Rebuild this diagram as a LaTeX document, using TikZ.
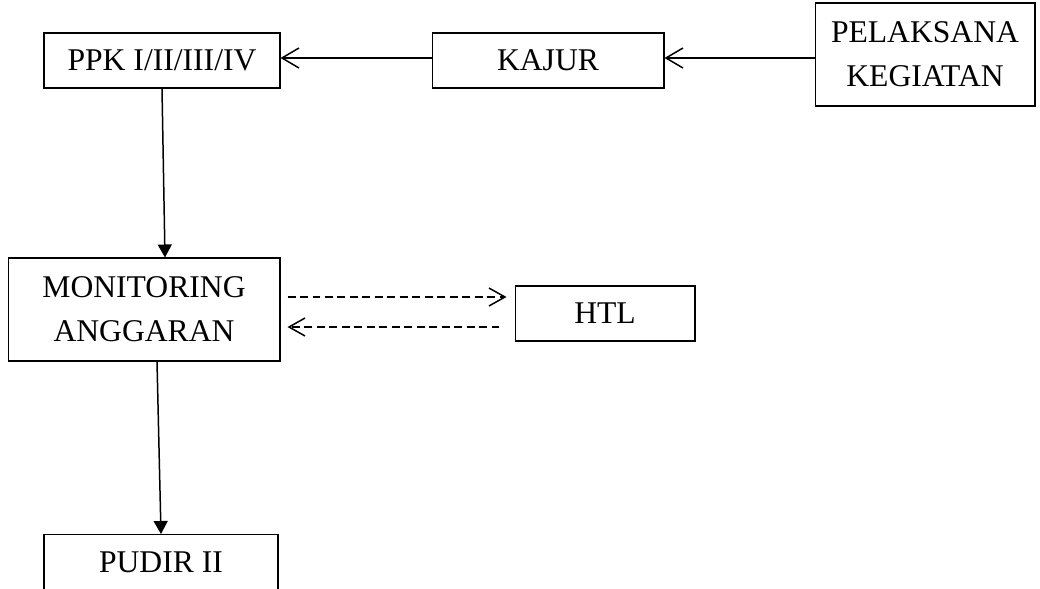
\documentclass[tikz,border=0pt]{standalone}
\usepackage{fontspec}
\setmainfont{Liberation Serif}
\usepackage{tikz}
\usetikzlibrary{positioning,arrows.meta,calc}
\tikzset{
  box/.style={rectangle, draw=black, line width=0.6pt, align=center,
              inner sep=2pt, font=\fontsize{18}{25}\selectfont},
  ar/.style={-{Straight Barb[length=3.4mm,width=4mm]}, line width=0.85pt},
  arf/.style={-{Triangle[length=2.6mm,width=2.8mm]}, line width=0.85pt},
  dar/.style={-{Straight Barb[length=3.2mm,width=3.6mm]}, line width=0.85pt,
              dash pattern=on 1.6mm off 0.9mm},
}
\begin{document}
\begin{tikzpicture}[x=0.02cm, y=-0.02cm]
  \useasboundingbox (0,0) rectangle (1040,588);
  \node[box, minimum width=4.72cm, minimum height=1.1cm] (ppk) at (162,60.5) {PPK I/II/III/IV};
  \node[box, minimum width=4.64cm, minimum height=1.1cm] (kajur) at (548,60.5) {KAJUR};
  \node[box, minimum width=4.4cm, minimum height=2.06cm] (pel) at (925,54.5) {PELAKSANA\\KEGIATAN};
  \node[box, minimum width=5.44cm, minimum height=2.06cm] (mon) at (144,309.5) {MONITORING\\ANGGARAN};
  \node[box, minimum width=3.6cm, minimum height=1.1cm] (htl) at (605,313.5) {HTL};
  \node[box, minimum width=4.68cm, minimum height=1.1cm] (pudir) at (161,562) {PUDIR II};

  \draw[ar] ([yshift=0.05cm]pel.west |- kajur.west) -- ([yshift=0.05cm]kajur.east);
  \draw[ar] ([yshift=0.05cm]kajur.west) -- ([yshift=0.05cm]ppk.east);
  \draw[arf] (ppk.south) -- ([xshift=0.42cm]mon.north);
  \draw[arf] ([xshift=0.26cm]mon.south) -- (pudir.north);
  \draw[dar] ([shift={(7,-12.5)}]mon.east) -- ([shift={(-8,-16.5)}]htl.west);
  \draw[dar] ([shift={(-15,13.5)}]htl.west) -- ([shift={(7,17.5)}]mon.east);
\end{tikzpicture}
\end{document}
